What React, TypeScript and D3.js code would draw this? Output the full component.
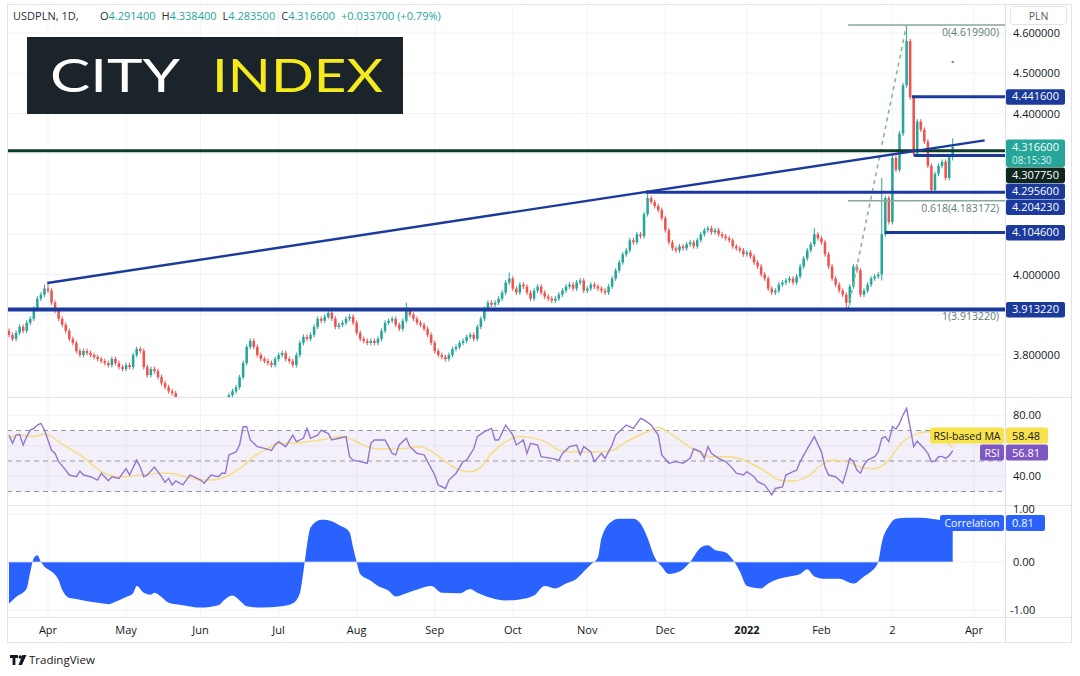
import React from "react";
import * as d3 from "d3";

// ---------- DATA ----------
const START = new Date(2021, 2, 17);
const END = new Date(2022, 3, 2);
const tradingDays = d3.timeDay
  .range(START, END)
  .filter((d) => d.getDay() !== 0 && d.getDay() !== 6);

const firstOpen = 3.86;
const closes = [
  3.85, 3.84, 3.855, 3.87, 3.86, 3.88, 3.89, 3.915, 3.94, 3.95,
  3.965, 3.96, 3.93, 3.91, 3.89, 3.875, 3.86, 3.84, 3.83, 3.81,
  3.8, 3.81, 3.805, 3.8, 3.795, 3.79, 3.785, 3.78, 3.775, 3.79,
  3.78, 3.77, 3.765, 3.775, 3.77, 3.8, 3.815, 3.81, 3.77, 3.75,
  3.765, 3.76, 3.745, 3.73, 3.72, 3.71, 3.705, 3.69, 3.68, 3.685,
  3.67, 3.66, 3.665, 3.655, 3.65, 3.66, 3.67, 3.66, 3.655, 3.665,
  3.675, 3.685, 3.7, 3.71, 3.72, 3.745, 3.78, 3.82, 3.835, 3.82,
  3.8, 3.79, 3.785, 3.78, 3.775, 3.79, 3.8, 3.805, 3.79, 3.785,
  3.775, 3.8, 3.83, 3.845, 3.84, 3.85, 3.87, 3.89, 3.885, 3.895,
  3.905, 3.89, 3.87, 3.875, 3.88, 3.89, 3.895, 3.88, 3.855, 3.84,
  3.835, 3.83, 3.835, 3.83, 3.84, 3.86, 3.88, 3.885, 3.89, 3.875,
  3.865, 3.885, 3.91, 3.9, 3.89, 3.88, 3.875, 3.865, 3.85, 3.83,
  3.81, 3.8, 3.795, 3.79, 3.8, 3.815, 3.82, 3.83, 3.835, 3.845,
  3.85, 3.84, 3.87, 3.89, 3.915, 3.93, 3.925, 3.93, 3.94, 3.955,
  3.98, 3.99, 3.965, 3.955, 3.975, 3.97, 3.955, 3.94, 3.96, 3.97,
  3.955, 3.945, 3.94, 3.935, 3.94, 3.95, 3.96, 3.97, 3.975, 3.965,
  3.98, 3.985, 3.96, 3.965, 3.975, 3.97, 3.965, 3.96, 3.955, 3.97,
  3.99, 4.01, 4.03, 4.05, 4.06, 4.085, 4.08, 4.1, 4.095, 4.15,
  4.19, 4.18, 4.17, 4.16, 4.14, 4.11, 4.08, 4.065, 4.06, 4.07,
  4.065, 4.075, 4.08, 4.07, 4.085, 4.1, 4.11, 4.115, 4.105, 4.11,
  4.1, 4.095, 4.09, 4.085, 4.07, 4.065, 4.06, 4.05, 4.055, 4.045,
  4.03, 4.02, 4.0, 3.99, 3.965, 3.955, 3.96, 3.975, 3.98, 3.985,
  3.99, 3.98, 3.995, 4.02, 4.04, 4.06, 4.075, 4.1, 4.09, 4.08,
  4.05, 4.02, 3.99, 3.975, 3.96, 3.95, 3.93, 3.97, 4.02, 4.01,
  3.95, 3.96, 3.975, 3.99, 3.995, 4.0, 4.1, 4.19, 4.13, 4.29,
  4.26, 4.35, 4.47, 4.58, 4.44, 4.3, 4.38, 4.36, 4.33, 4.27,
  4.21, 4.25, 4.27, 4.28, 4.24, 4.2914, 4.3166,
];
const WICK = 0.006;
const highBars = [10, 11, 112, 141, 180, 227, 246, 253, 266];
const highVals = [3.975, 3.98, 3.93, 4.005, 4.21, 4.115, 4.24, 4.6199, 4.3384];
const lowBars = [236, 246, 255, 260, 266];
const lowVals = [3.91322, 3.985, 4.2956, 4.205, 4.2835];

const rsiBars = [0,1,2,3,4,5,6,7,8,9,10,12,13,14,16,17,19,20,21,23,25,26,28,29,31,33,34,36,37,38,39,41,43,44,45,46,47,49,51,52,54,55,57,59,60,61,62,64,65,66,67,68,70,72,74,75,76,78,80,81,83,84,85,87,88,90,91,93,95,96,97,99,101,102,103,105,106,108,109,110,112,113,115,117,118,120,121,123,124,126,128,129,131,132,134,136,137,138,140,142,143,145,146,147,149,150,153,155,156,158,160,161,162,164,165,167,168,170,171,173,174,176,178,179,181,183,184,186,188,190,192,193,195,196,197,198,200,202,204,205,207,208,210,211,213,215,216,218,219,221,222,223,225,227,229,230,231,233,235,236,237,238,239,240,241,242,244,245,246,247,248,249,250,251,252,253,254,255,256,257,258,259,260,261,262,263,264,265,266];
const rsiValues = [67,61.6,67,67.5,60.5,66,70.3,71.4,73.6,74.7,70.3,57,55,49.6,44,40.8,39.7,43.4,40.8,39.7,37.5,42,37,39.7,38.6,45,40.8,50.6,46,39.7,40.8,46,39.7,36,38.6,34.3,37,34.3,40.8,39.7,37.5,35.4,40.8,39.7,42,42,54,56,60.5,72.5,72.5,63.8,59.4,58.3,57,60.5,62.7,59.4,67,62.7,64.9,71.4,64.9,67,70.3,68,63.8,64.9,66,52.8,50.6,49.6,48.5,61.6,63.8,63.8,63.8,55,54,60.5,64.9,59.4,55,54,49.6,40.8,34.3,32,37.5,42,49.6,50.6,58,66,69.2,71.4,63.8,63.8,73.6,67,60.5,63.8,55,61.6,60.5,52.8,51.7,50.6,55,59.4,60.5,54,59.4,56,49.6,55,51.7,60.5,67,71.4,73.6,71.4,78,77,73.6,67,54,48.5,49.6,48.5,51.7,58,56,51.7,59.4,55,51.7,49.6,45,42,40.8,43,39.7,36.4,34.3,27.7,32,33,40.8,43,44,49.6,58,66,56,46,40.8,39.7,35.4,43,51.7,49.6,44,42,47.4,50.6,52.8,56,64.9,66,62.7,72.5,71,74.7,80.2,84.5,72,59.4,63,60.5,58,55,49.6,50,52.8,53,51.7,53.5,56.81];

const maBars = [0,3,7,10,12,14,17,20,23,26,28,32,37,43,45,50,54,57,61,65,69,73,76,80,84,88,91,94,97,101,105,108,112,116,120,123,127,130,133,136,140,144,148,152,155,159,163,167,170,174,180,183,187,191,195,198,202,206,210,214,217,221,225,229,232,236,240,244,248,251,255,259,262,266];
const maValues = [64.9,67,66,67.5,66,62.7,58.3,54,48.5,43,40.8,39.7,40.8,42,42,39.7,37.5,37.5,39.7,45,52.8,58.3,61.6,61.6,62.7,63.8,65.3,66,63.8,59.4,57.9,57.9,58.3,59.4,55,49.6,44,43,46,55,62.7,66,65,61.6,57,55.9,55.9,55.9,57,62.7,69.2,71.9,67,60.5,55,52.8,52.8,51.7,47.4,42,37.5,36.9,39.7,47.4,50.6,49.6,46,45,50.6,60.5,67,69.2,67,58.48];

const corrBars = [0,2,5,6,7,8,9,10,12,14,15,17,19,23,26,28,30,33,35,36,38,40,41,43,45,49,54,59,61,63,65,67,71,77,80,82,83,84,85,88,90,93,96,97,98,99,102,104,107,109,112,116,119,122,127,130,132,136,140,144,148,151,154,157,160,162,164,166,167,170,172,176,178,180,182,184,186,189,192,195,197,199,202,204,206,208,212,214,217,220,223,225,227,230,234,238,241,243,245,246,248,250,253,257,260,262,266];
const corrValues = [-0.87,-0.73,-0.55,-0.21,0.08,0.14,0,-0.1,-0.2,-0.38,-0.58,-0.75,-0.77,-0.83,-0.86,-0.88,-0.83,-0.73,-0.65,-0.5,-0.64,-0.68,-0.64,-0.73,-0.85,-0.9,-0.95,-0.9,-0.77,-0.7,-0.8,-0.92,-0.95,-0.92,-0.86,-0.65,-0.2,0.35,0.72,0.88,0.87,0.77,0.62,0.3,0,-0.25,-0.39,-0.5,-0.6,-0.72,-0.65,-0.55,-0.5,-0.64,-0.65,-0.56,-0.64,-0.75,-0.8,-0.78,-0.7,-0.5,-0.55,-0.45,-0.35,-0.2,-0.05,0.1,0.5,0.85,0.9,0.9,0.8,0.5,0.1,-0.1,-0.25,-0.2,0,0.3,0.35,0.25,0.2,0.05,-0.2,-0.5,-0.55,-0.45,-0.35,-0.3,-0.25,-0.15,-0.3,-0.35,-0.35,-0.45,-0.3,-0.2,0,0.4,0.75,0.9,0.92,0.92,0.9,0.88,0.81];

const monthLabels = ["Apr","May","Jun","Jul","Aug","Sep","Oct","Nov","Dec","2022","Feb","2","Apr"];

// drawings (bar index / price)
const trendFrom = [10.8, 3.979];
const trendTo = [179.4, 4.205];
const trendEnd = 275;
const levelPrices = [4.4416, 4.2956, 4.20423, 4.1046, 3.91322];
const levelStarts = [254.5, 255, 179.4, 247, -5];
const greenLine = 4.30775;
const fibLow = [236.5, 3.91322];
const fibHigh = [253, 4.6199];
const fibLevels = [0, 0.618, 1];
const lastDot = [266, 4.528];

const header = { sym: "USDPLN, 1D,", o: "4.291400", h: "4.338400", l: "4.283500", c: "4.316600", ch: "+0.033700 (+0.79%)" };
const rsiTicks = [80, 60, 40];
const corrTicks = [1, 0, -1];
const rsiLast = 56.81;
const maLast = 58.48;
const corrLast = 0.81;
const lastPrice = 4.3166;
const countdown = "08:15:30";

// ---------- LAYOUT ----------
const L = 7, PR = 1005, R = 1071;
const MT = 4, MB = 397, RB = 505, CB = 617, AB = 642;
const FONT = "'Open Sans', 'Noto Sans', sans-serif";
const UP = "#26a69a", DOWN = "#ef5350", NAVY = "#1b3a9c", GRID = "#f0f3fa", BORDER = "#e0e3eb";

export default function App() {
  const x = d3.scaleLinear().domain([11, 272]).range([48, 974]);
  const y = d3.scaleLinear().domain([3.8, 4.6]).range([355, 33]);
  const yR = d3.scaleLinear().domain([30, 70]).range([491.5, 430.5]);
  const yC = d3.scaleLinear().domain([-1, 1]).range([610, 514]);
  const step = x(1) - x(0);
  const bw = step * 0.72;

  const hiMap = new Map(highBars.map((b, k) => [b, highVals[k]]));
  const loMap = new Map(lowBars.map((b, k) => [b, lowVals[k]]));
  const candles = closes.map((c, i) => {
    const o = i === 0 ? firstOpen : closes[i - 1];
    const h = hiMap.get(i) ?? Math.max(o, c) + WICK;
    const l = loMap.get(i) ?? Math.min(o, c) - WICK;
    return { i, o, c, h, l };
  });

  const monthTicks: number[] = [];
  tradingDays.forEach((d, i) => {
    if (i > 0 && d.getMonth() !== tradingDays[i - 1].getMonth()) monthTicks.push(i);
  });

  const priceTicks = d3.range(3.8, 4.61, 0.1);
  const fmt6 = d3.format(".6f");

  const rsiLine = d3.line<number>().x((_, k) => x(rsiBars[k])).y((v) => yR(v)).curve(d3.curveLinear)(rsiValues);
  const maLine = d3.line<number>().x((_, k) => x(maBars[k])).y((v) => yR(v)).curve(d3.curveMonotoneX)(maValues);
  const corrArea = d3.area<number>().x((_, k) => x(corrBars[k])).y0(yC(0)).y1((v) => yC(v)).curve(d3.curveMonotoneX)(corrValues);

  const slope = (trendTo[1] - trendFrom[1]) / (trendTo[0] - trendFrom[0]);
  const trendEndPrice = trendFrom[1] + slope * (trendEnd - trendFrom[0]);

  // price-axis labels with collision stacking
  type Lab = { v: number; fill: string; lines: string[]; h: number };
  const labs: Lab[] = [
    ...levelPrices.map((v) => ({ v, fill: NAVY, lines: [fmt6(v)], h: 15.5 })),
    { v: lastPrice, fill: UP, lines: [fmt6(lastPrice), countdown], h: 27.5 },
    { v: greenLine, fill: "#0f261d", lines: [fmt6(greenLine)], h: 15.5 },
  ].sort((a, b) => b.v - a.v);
  let prevBottom = -Infinity;
  const placed = labs.map((lb) => {
    const top = Math.max(y(lb.v) - 7.5, prevBottom + 0.5);
    prevBottom = top + lb.h;
    return { ...lb, top };
  });
  const covered = (yy: number, boxes: { top: number; h: number }[]) =>
    boxes.some((b) => yy > b.top - 6 && yy < b.top + b.h + 6);

  const fibRange = fibHigh[1] - fibLow[1];
  const rsiLabY = yR(rsiLast) + 2;
  const maLabY = rsiLabY - 17;
  const rsiBoxes = [{ top: maLabY - 8, h: 16 }, { top: rsiLabY - 8, h: 16 }];

  return (
    <svg width={1080} height={676} style={{ display: "block", position: "absolute", left: 0, top: 0, background: "#fff" }} fontFamily={FONT}>
      <defs>
        <clipPath id="mainClip"><rect x={L} y={MT} width={PR - L} height={MB - MT} /></clipPath>
      </defs>
      <rect x={0} y={0} width={1080} height={676} fill="#fff" />

      {/* grid */}
      {monthTicks.map((t) => (
        <line key={"vg" + t} x1={x(t)} x2={x(t)} y1={MT} y2={CB} stroke={GRID} strokeWidth={1} />
      ))}
      {priceTicks.map((p) => (
        <line key={"hg" + p} x1={L} x2={PR} y1={y(p)} y2={y(p)} stroke={GRID} strokeWidth={1} />
      ))}
      {rsiTicks.map((v) => (
        <line key={"rg" + v} x1={L} x2={PR} y1={yR(v)} y2={yR(v)} stroke={GRID} />
      ))}
      {corrTicks.map((v) => (
        <line key={"cg" + v} x1={L} x2={PR} y1={yC(v)} y2={yC(v)} stroke={GRID} />
      ))}

      {/* candles */}
      <g clipPath="url(#mainClip)">
        {candles.map((d) => {
          const col = d.c >= d.o ? UP : DOWN;
          const top = y(Math.max(d.o, d.c));
          const hgt = Math.max(1, Math.abs(y(d.o) - y(d.c)));
          return (
            <g key={d.i}>
              <line x1={x(d.i)} x2={x(d.i)} y1={y(d.h)} y2={y(d.l)} stroke={col} strokeWidth={1} />
              <rect x={x(d.i) - bw / 2} y={top} width={bw} height={hgt} fill={col} />
            </g>
          );
        })}

        {/* fib */}
        <line x1={x(fibLow[0])} y1={y(fibLow[1])} x2={x(fibHigh[0])} y2={y(fibHigh[1])} stroke="#86b88f" strokeWidth={1.6} strokeDasharray="4 4" />
        {fibLevels.map((lv) => {
          const p = fibHigh[1] - lv * fibRange;
          return (
            <g key={"fib" + lv}>
              <line x1={x(fibLow[0])} x2={PR} y1={y(p)} y2={y(p)} stroke="#8aa79b" strokeWidth={1.5} />
              <text x={999} y={y(p) + 11} textAnchor="end" fontSize={10.5} fill="#5f7d72">{`${lv}(${fmt6(p)})`}</text>
            </g>
          );
        })}
        <circle cx={x(lastDot[0])} cy={y(lastDot[1])} r={1.3} fill="#6f9a86" />

        {/* green horizontal */}
        <line x1={L} x2={PR} y1={y(greenLine)} y2={y(greenLine)} stroke="#0e3a2a" strokeWidth={3} />
        {/* trend line */}
        <line x1={x(trendFrom[0])} y1={y(trendFrom[1])} x2={x(trendEnd)} y2={y(trendEndPrice)} stroke={NAVY} strokeWidth={2.4} />
        {/* levels */}
        {levelPrices.map((p, k) => (
          <line key={"lv" + p} x1={Math.max(L, x(levelStarts[k]))} x2={PR} y1={y(p)} y2={y(p)} stroke={NAVY} strokeWidth={k === 4 ? 4 : 3} />
        ))}
      </g>

      {/* header */}
      <text x={13} y={20} fontSize={11} fill="#2a2e39">
        <tspan>{header.sym}</tspan>
        <tspan x={100}>O</tspan><tspan fill={UP}>{header.o}</tspan>
        <tspan dx={6}>H</tspan><tspan fill={UP}>{header.h}</tspan>
        <tspan dx={6}>L</tspan><tspan fill={UP}>{header.l}</tspan>
        <tspan dx={6}>C</tspan><tspan fill={UP}>{header.c}</tspan>
        <tspan dx={6} fill={UP}>{header.ch}</tspan>
      </text>

      {/* City Index logo */}
      <rect x={27} y={37} width={376} height={77} fill="#1b242b" />
      <text x={50} y={92} fontSize={47} fontFamily="Lato, 'Open Sans', sans-serif" fill="#ffffff" textLength={130} lengthAdjust="spacingAndGlyphs">CITY</text>
      <text x={212} y={92} fontSize={47} fontFamily="Lato, 'Open Sans', sans-serif" fill="#f4ea1c" textLength={171} lengthAdjust="spacingAndGlyphs">INDEX</text>

      {/* RSI pane */}
      <rect x={L} y={yR(70)} width={PR - L} height={yR(30) - yR(70)} fill="#7e57c2" fillOpacity={0.09} />
      {[70, 50, 30].map((v) => (
        <line key={"rd" + v} x1={L} x2={PR} y1={yR(v)} y2={yR(v)} stroke="#9598a1" strokeWidth={1} strokeDasharray="5 4" />
      ))}
      <path d={maLine || ""} fill="none" stroke="#f6dd83" strokeWidth={1.5} />
      <path d={rsiLine || ""} fill="none" stroke="#9575cd" strokeWidth={1.4} />

      {/* Correlation pane */}
      <path d={corrArea || ""} fill="#2962ff" />
      <line x1={L} x2={x(266)} y1={yC(0)} y2={yC(0)} stroke="#d6def8" strokeWidth={0.8} />

      {/* frame & separators */}
      <line x1={L} x2={R} y1={MB + 0.5} y2={MB + 0.5} stroke={BORDER} />
      <line x1={L} x2={R} y1={RB + 0.5} y2={RB + 0.5} stroke={BORDER} />
      <line x1={L} x2={R} y1={CB + 0.5} y2={CB + 0.5} stroke={BORDER} />
      <line x1={PR + 0.5} x2={PR + 0.5} y1={MT} y2={AB} stroke={BORDER} />
      <rect x={L + 0.5} y={MT + 0.5} width={R - L} height={AB - MT} fill="none" stroke={BORDER} />

      {/* price axis ticks (hidden where a label box covers them) */}
      {priceTicks.filter((p) => !covered(y(p), placed)).map((p) => (
        <text key={"pt" + p} x={1013} y={y(p) + 4} fontSize={11} fill="#131722">{fmt6(p)}</text>
      ))}
      {placed.map((lb) => (
        <g key={"lab" + lb.v}>
          <rect x={1006} y={lb.top} width={59} height={lb.h} rx={2} fill={lb.fill} />
          {lb.lines.map((t, k) => (
            <text key={k} x={1012} y={lb.top + 11 + k * 13} fontSize={k === 1 ? 10 : 11} fill={k === 1 ? "#d8f1ee" : "#ffffff"}>{t}</text>
          ))}
        </g>
      ))}
      <rect x={1010.5} y={6.5} width={56} height={18} rx={3} fill="#fff" stroke={BORDER} />
      <text x={1038.5} y={19.5} textAnchor="middle" fontSize={10.5} fill="#555a66">PLN</text>

      {/* RSI axis */}
      {rsiTicks.filter((v) => !covered(yR(v), rsiBoxes)).map((v) => (
        <text key={"ra" + v} x={1013} y={yR(v) + 4} fontSize={11} fill="#131722">{v.toFixed(2)}</text>
      ))}
      <rect x={930} y={maLabY - 8} width={74} height={16} rx={2} fill="#f8e34c" />
      <text x={967} y={maLabY + 4} textAnchor="middle" fontSize={10.5} fill="#131722">RSI-based MA</text>
      <rect x={1006} y={maLabY - 8} width={42} height={16} rx={2} fill="#f8e34c" />
      <text x={1012} y={maLabY + 4} fontSize={11} fill="#131722">{maLast.toFixed(2)}</text>
      <rect x={980} y={rsiLabY - 8} width={24} height={16} rx={2} fill="#7e57c2" />
      <text x={992} y={rsiLabY + 4} textAnchor="middle" fontSize={10.5} fill="#fff">RSI</text>
      <rect x={1006} y={rsiLabY - 8} width={42} height={16} rx={2} fill="#7e57c2" />
      <text x={1012} y={rsiLabY + 4} fontSize={11} fill="#fff">{rsiLast.toFixed(2)}</text>

      {/* Corr axis */}
      {corrTicks.map((v) => (
        <text key={"ca" + v} x={v < 0 ? 1010 : 1013} y={v === 1 ? yC(v) - 1 : yC(v) + 4} fontSize={11} fill="#131722">{v.toFixed(2)}</text>
      ))}
      <rect x={940} y={yC(corrLast) - 8} width={64} height={16} rx={2} fill="#2962ff" />
      <text x={972} y={yC(corrLast) + 4} textAnchor="middle" fontSize={10.5} fill="#fff">Correlation</text>
      <rect x={1006} y={yC(corrLast) - 8} width={39} height={16} rx={2} fill="#2962ff" />
      <text x={1012} y={yC(corrLast) + 4} fontSize={11} fill="#fff">{corrLast.toFixed(2)}</text>

      {/* time axis */}
      {monthTicks.map((t, k) => (
        <text key={"ta" + t} x={x(t)} y={634} textAnchor="middle" fontSize={11} fill="#131722" fontWeight={monthLabels[k] === "2022" ? 700 : 400}>
          {monthLabels[k] ?? ""}
        </text>
      ))}

      {/* footer */}
      <path d="M10 655 h8 v3 h-2.6 v7 h-2.8 v-7 h-2.6 z" fill="#131722" />
      <circle cx={20.3} cy={657} r={1.7} fill="#131722" />
      <path d="M22.5 655 h4 l-4.6 10 h-3.4 z" fill="#131722" />
      <text x={29} y={664} fontSize={11.5} fill="#131722">TradingView</text>
    </svg>
  );
}
